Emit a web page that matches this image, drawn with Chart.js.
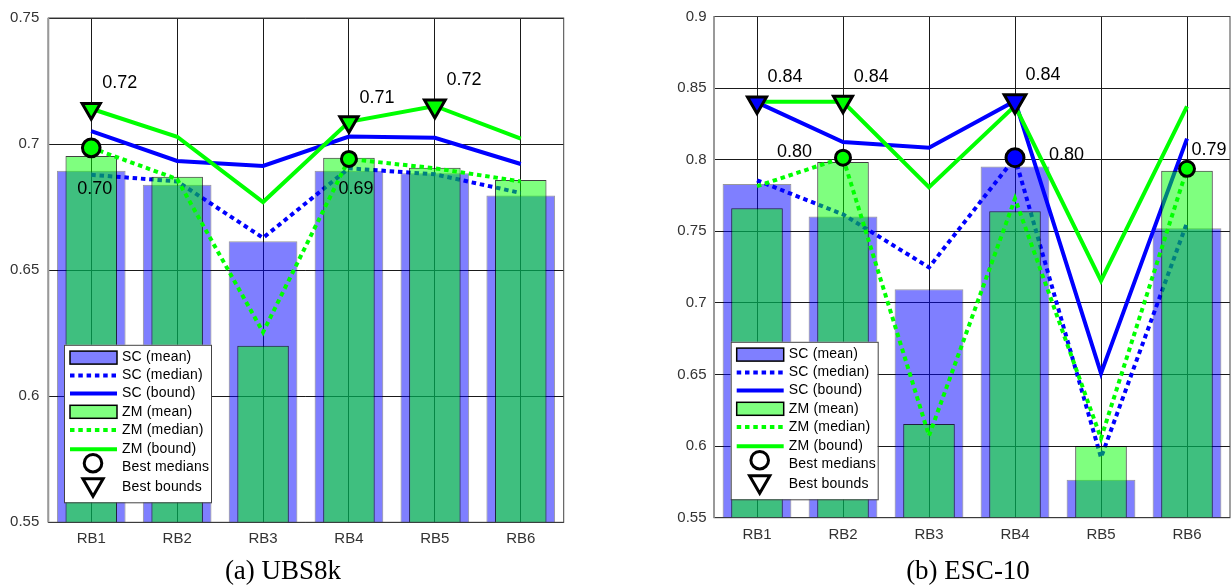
<!DOCTYPE html>
<html lang="en">
<head>
<meta charset="UTF-8">
<title>SC vs ZM per rule base</title>
<script src="https://cdn.jsdelivr.net/npm/chart.js@4"></script>
<style>
    body { margin: 0; background: #fff; width: 1231px; height: 586px; position: relative; overflow: hidden; }
    .panel { position: absolute; top: 0; }
    .caption {
        position: absolute; top: 555px; line-height: 30px;
        font-family: "Liberation Serif", "Times New Roman", serif; font-size: 27px;
        color: #000; transform: translateX(-50%); white-space: nowrap;
    }
</style>
</head>
<body>
<div class="panel" style="left:0px;"><canvas id="ubsChart" width="600" height="560"></canvas></div>
<div class="panel" style="left:620px;"><canvas id="escChart" width="651" height="560"></canvas></div>
<div class="caption" style="left:283px;">(a) UBS8k</div>
<div class="caption" style="left:968px;">(b) ESC-10</div>

<script>
// categories (rule bases)
const categories = ['RB1', 'RB2', 'RB3', 'RB4', 'RB5', 'RB6'];

// (a) UBS8k
const ubsScMean   = [0.6894, 0.6839, 0.6615, 0.6894, 0.6884, 0.6796];
const ubsScMedian = [0.6878, 0.6852, 0.6628, 0.6904, 0.6880, 0.6806];
const ubsScBound  = [0.7051, 0.6933, 0.6913, 0.7030, 0.7025, 0.6921];
const ubsZmMean   = [0.6953, 0.6870, 0.6200, 0.6946, 0.6906, 0.6858];
const ubsZmMedian = [0.6985, 0.6861, 0.6254, 0.6941, 0.6904, 0.6852];
const ubsZmBound  = [0.7140, 0.7029, 0.6770, 0.7088, 0.7151, 0.7022];
const ubsBestMedian = [0.6985, null, null, 0.6941, null, null];
const ubsBestBound  = [0.7140, null, null, 0.7088, 0.7151, null];
const ubsMedianText = ['0.70', null, null, '0.69', null, null];
const ubsBoundText  = ['0.72', null, null, '0.71', '0.72', null];
const ubsTicks = [0.55, 0.6, 0.65, 0.7, 0.75];

// (b) ESC-10
const escScMean   = [0.7831, 0.7604, 0.7095, 0.7952, 0.5765, 0.7521];
const escScMedian = [0.7856, 0.7618, 0.7248, 0.8014, 0.5920, 0.7560];
const escScBound  = [0.8400, 0.8124, 0.8083, 0.8410, 0.6508, 0.8147];
const escZmMean   = [0.7661, 0.7984, 0.6155, 0.7640, 0.6000, 0.7922];
const escZmMedian = [0.7815, 0.8014, 0.6072, 0.7728, 0.6054, 0.7936];
const escZmBound  = [0.8404, 0.8404, 0.7808, 0.8376, 0.7155, 0.8372];
const escBestMedian = [null, 0.8014, null, 0.8014, null, 0.7936];
const escBestBound  = [0.8400, 0.8404, null, 0.8410, null, null];
const escMedianText = [null, '0.80', null, '0.80', null, '0.79'];
const escBoundText  = ['0.84', '0.84', null, '0.84', null, null];
const escTicks = [0.55, 0.6, 0.65, 0.7, 0.75, 0.8, 0.85, 0.9];

// colours / styles
const BLUE = '#0000ff';
const GREEN = '#00ff00';
const BLUE_FILL = 'rgba(0,0,255,0.5)';
const GREEN_FILL = 'rgba(0,255,0,0.5)';
const DOTS = [4.5, 3.8];

const ubsStyle = {
    yWidth: 48.3, padRight: 36.3, padTop: 15.6, padBottom: 7.7, yPad: 9,
    medianColor: [GREEN, GREEN, GREEN, GREEN, GREEN, GREEN],
    boundColor:  [GREEN, GREEN, GREEN, GREEN, GREEN, GREEN],
    medianRadius: [8.8, 0, 0, 7.5, 0, 0],
    boundRadius:  [10.5, 0, 0, 10.5, 12, 0],
    medianTextOff: [[-14, 40.7], null, null, [-10.4, 30.4], null, null],
    boundTextOff:  [[11, -26], null, null, [10.6, -24], [11.7, -26], null],
    legendDx: 15.7, legendDy: 20
};
// canvas is wider than the window; the part past 1231px is cut off
const escStyle = {
    yWidth: 94, padRight: 41, padTop: 11, padBottom: 12.3, yPad: 7.5,
    medianColor: [GREEN, GREEN, GREEN, BLUE, GREEN, GREEN],
    boundColor:  [BLUE, GREEN, GREEN, BLUE, GREEN, GREEN],
    medianRadius: [0, 7.5, 0, 9, 0, 7.5],
    boundRadius:  [11, 11, 0, 12.5, 0, 0],
    medianTextOff: [null, [-66, -6], null, [34, -2.6], null, [4.4, -19]],
    boundTextOff:  [[10.6, -25], [10.7, -25], null, [10.4, -26], null, null],
    legendDx: 16.7, legendDy: 18.4
};

// legend entries, drawn in a box inside the plot
const legendItems = [
    { label: 'SC (mean)',    kind: 'bar',      color: BLUE_FILL },
    { label: 'SC (median)',  kind: 'dotted',   color: BLUE },
    { label: 'SC (bound)',   kind: 'solid',    color: BLUE },
    { label: 'ZM (mean)',    kind: 'bar',      color: GREEN_FILL },
    { label: 'ZM (median)',  kind: 'dotted',   color: GREEN },
    { label: 'ZM (bound)',   kind: 'solid',    color: GREEN },
    { label: 'Best medians', kind: 'circle' },
    { label: 'Best bounds',  kind: 'triangle' }
];
const legendRowY = [12.8, 30.8, 48.7, 67, 85.2, 104.5, 122.4, 142.7];
const LEG_W = 147, LEG_H = 157.5;

function drawLegend(chart, s) {
    const ctx = chart.ctx, a = chart.chartArea;
    const bx = a.left + s.legendDx, by = a.bottom - s.legendDy - LEG_H;
    ctx.save();
    ctx.fillStyle = '#fff';
    ctx.fillRect(bx, by, LEG_W, LEG_H);
    ctx.strokeStyle = '#444';
    ctx.lineWidth = 1;
    ctx.strokeRect(bx + 0.5, by + 0.5, LEG_W, LEG_H);
    legendItems.forEach((item, k) => {
        const y = by + legendRowY[k];
        const x0 = bx + 6, x1 = bx + 53, xm = bx + 29;
        ctx.setLineDash([]);
        if (item.kind === 'bar') {
            ctx.fillStyle = item.color;
            ctx.fillRect(x0, y - 6.5, x1 - x0, 13);
            ctx.strokeStyle = '#000';
            ctx.lineWidth = 1.5;
            ctx.strokeRect(x0, y - 6.5, x1 - x0, 13);
        } else if (item.kind === 'dotted' || item.kind === 'solid') {
            ctx.strokeStyle = item.color;
            ctx.lineWidth = 4;
            if (item.kind === 'dotted') ctx.setLineDash(DOTS);
            ctx.beginPath();
            ctx.moveTo(x0, y);
            ctx.lineTo(x1, y);
            ctx.stroke();
        } else if (item.kind === 'circle') {
            ctx.strokeStyle = '#000';
            ctx.lineWidth = 3;
            ctx.beginPath();
            ctx.arc(xm, y - 4, 8.8, 0, Math.PI * 2);
            ctx.stroke();
        } else {
            const r = 11.7, cy = y - 3;
            ctx.strokeStyle = '#000';
            ctx.lineWidth = 3;
            ctx.beginPath();
            ctx.moveTo(xm, cy + r);
            ctx.lineTo(xm - r * 0.866, cy - r / 2);
            ctx.lineTo(xm + r * 0.866, cy - r / 2);
            ctx.closePath();
            ctx.stroke();
        }
        ctx.fillStyle = '#000';
        ctx.font = '14px "Liberation Sans", Arial, sans-serif';
        ctx.letterSpacing = '0.2px';
        ctx.textAlign = 'left';
        ctx.textBaseline = 'middle';
        ctx.fillText(item.label, bx + 58, y);
    });
    ctx.restore();
}

function drawNotes(chart, values, texts, offsets) {
    const ctx = chart.ctx, xs = chart.scales.x, ys = chart.scales.y;
    ctx.save();
    ctx.fillStyle = '#000';
    ctx.font = '18px "Liberation Sans", Arial, sans-serif';
    ctx.textAlign = 'left';
    ctx.textBaseline = 'middle';
    texts.forEach((t, i) => {
        if (!t) return;
        const px = xs.getPixelForValue(i), py = ys.getPixelForValue(values[i]);
        ctx.fillText(t, px + offsets[i][0], py + offsets[i][1]);
    });
    ctx.restore();
}

function buildChart(id, d, s, ticks) {
    const extras = {
        id: 'frameNotesLegend',
        afterDatasetsDraw(chart) {
            const ctx = chart.ctx, a = chart.chartArea;
            ctx.save();
            ctx.strokeStyle = '#444';
            ctx.lineWidth = 1;
            ctx.strokeRect(a.left, a.top, a.right - a.left, a.bottom - a.top);
            ctx.strokeStyle = '#999';
            ctx.lineWidth = 2;
            ctx.beginPath();
            ctx.moveTo(a.left, a.top);
            ctx.lineTo(a.left, a.bottom);
            ctx.stroke();
            ctx.restore();
            drawNotes(chart, d.bestBound, d.boundText, s.boundTextOff);
            drawNotes(chart, d.bestMedian, d.medianText, s.medianTextOff);
            drawLegend(chart, s);
        }
    };
    return new Chart(document.getElementById(id), {
        type: 'bar',
        data: {
            labels: categories,
            datasets: [
                { label: 'SC (mean)', data: d.scMean, backgroundColor: BLUE_FILL,
                  borderColor: 'rgba(0,0,0,0.4)', borderWidth: 1,
                  barPercentage: 0.8, categoryPercentage: 1, grouped: false, order: 8 },
                { type: 'line', label: 'SC (median)', data: d.scMedian, borderColor: BLUE,
                  borderWidth: 4, borderDash: DOTS, pointRadius: 0, order: 7 },
                { type: 'line', label: 'SC (bound)', data: d.scBound, borderColor: BLUE,
                  borderWidth: 4, pointRadius: 0, order: 6 },
                { label: 'ZM (mean)', data: d.zmMean, backgroundColor: GREEN_FILL,
                  borderColor: 'rgba(0,0,0,0.75)', borderWidth: 1,
                  barPercentage: 0.6, categoryPercentage: 1, grouped: false, order: 5 },
                { type: 'line', label: 'ZM (median)', data: d.zmMedian, borderColor: GREEN,
                  borderWidth: 4, borderDash: DOTS, pointRadius: 0, order: 4 },
                { type: 'line', label: 'ZM (bound)', data: d.zmBound, borderColor: GREEN,
                  borderWidth: 4, pointRadius: 0, order: 3 },
                { type: 'line', label: 'Best medians', data: d.bestMedian, showLine: false,
                  pointStyle: 'circle', pointRadius: s.medianRadius,
                  pointBackgroundColor: s.medianColor, pointBorderColor: '#000',
                  pointBorderWidth: 3, order: 2 },
                { type: 'line', label: 'Best bounds', data: d.bestBound, showLine: false,
                  pointStyle: 'triangle', pointRotation: 180, pointRadius: s.boundRadius,
                  pointBackgroundColor: s.boundColor, pointBorderColor: '#000',
                  pointBorderWidth: 3, order: 1 }
            ]
        },
        options: {
            responsive: false,
            animation: false,
            layout: { padding: { left: 0, right: s.padRight, top: s.padTop, bottom: s.padBottom } },
            plugins: { legend: { display: false }, tooltip: { enabled: false } },
            scales: {
                x: {
                    grid: { offset: false, color: '#1a1a1a', lineWidth: 1, drawTicks: false },
                    border: { display: false },
                    ticks: { color: '#333', padding: 8,
                             font: { family: '"Liberation Sans", Arial, sans-serif', size: 15 } },
                    afterFit(sc) { sc.height = 30; }
                },
                y: {
                    min: ticks[0],
                    max: ticks[ticks.length - 1],
                    afterBuildTicks(sc) { sc.ticks = ticks.map(v => ({ value: v })); },
                    grid: { color: '#1a1a1a', lineWidth: 1, drawTicks: false },
                    border: { display: false },
                    ticks: { color: '#333', padding: s.yPad, callback: v => String(v),
                             font: { family: '"Liberation Sans", Arial, sans-serif', size: 15 } },
                    afterFit(sc) { sc.width = s.yWidth; }
                }
            }
        },
        plugins: [extras]
    });
}

buildChart('ubsChart', {
    scMean: ubsScMean, scMedian: ubsScMedian, scBound: ubsScBound,
    zmMean: ubsZmMean, zmMedian: ubsZmMedian, zmBound: ubsZmBound,
    bestMedian: ubsBestMedian, bestBound: ubsBestBound,
    medianText: ubsMedianText, boundText: ubsBoundText
}, ubsStyle, ubsTicks);

buildChart('escChart', {
    scMean: escScMean, scMedian: escScMedian, scBound: escScBound,
    zmMean: escZmMean, zmMedian: escZmMedian, zmBound: escZmBound,
    bestMedian: escBestMedian, bestBound: escBestBound,
    medianText: escMedianText, boundText: escBoundText
}, escStyle, escTicks);
</script>
</body>
</html>
